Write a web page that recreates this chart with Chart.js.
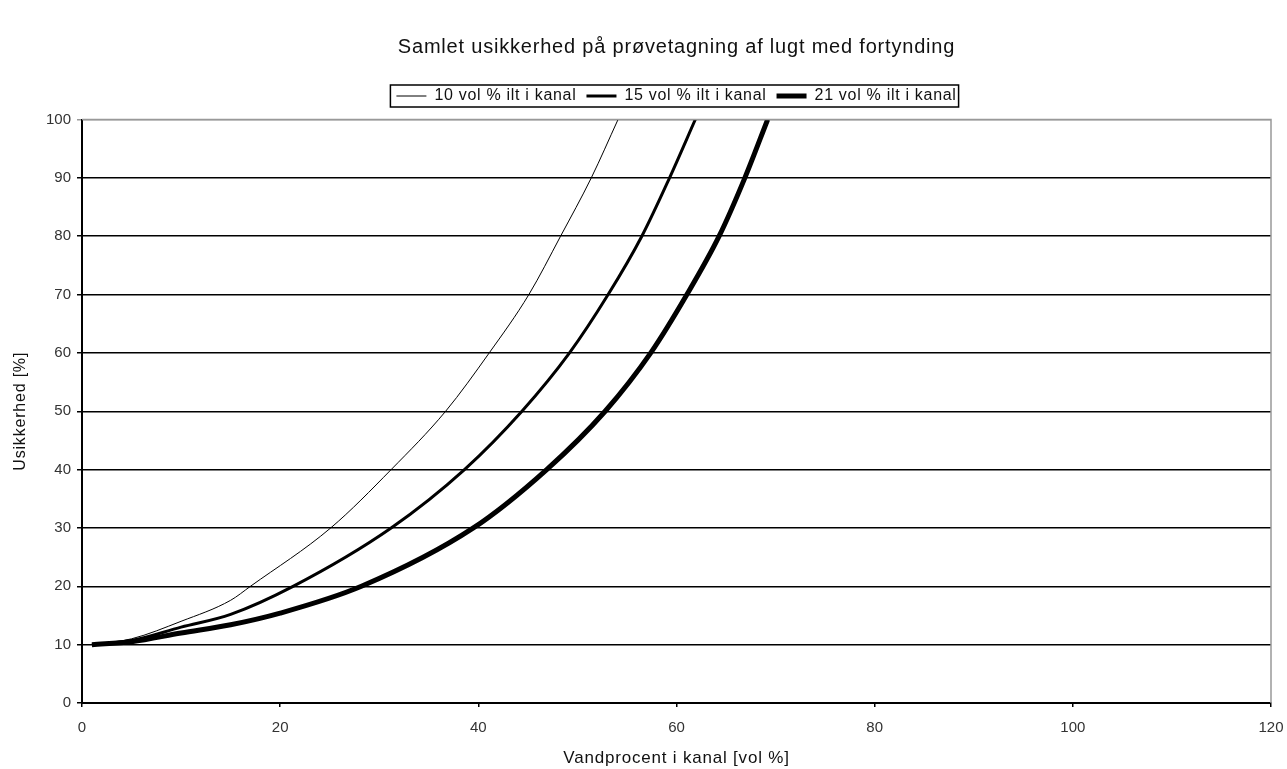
<!DOCTYPE html>
<html lang="da">
<head>
    <meta charset="UTF-8">
    <title>Samlet usikkerhed</title>
    <style>
        html, body { margin: 0; padding: 0; background: #fff; }
        #wrap { width: 1287px; height: 769px; }
    </style>
</head>
<body>
    <div id="wrap"><canvas id="chart"></canvas></div>

    <script src="https://cdn.jsdelivr.net/npm/chart.js"></script>
    <script>
        // Aflæste punkter (x = vandprocent, y = usikkerhed)
        const labels10 = '10 vol % ilt i kanal';
        const x10 = [1, 5, 10, 15, 17.0, 25.1, 31.2, 36.7, 41.1, 45.1, 48.3, 51.4, 54.1];
        const y10 = [10, 11.0, 14.0, 17.6, 20, 30, 40, 50, 60, 70, 80, 90, 100];

        const labels15 = '15 vol % ilt i kanal';
        const x15 = [1, 5, 10, 15, 21.3, 31.2, 38.6, 44.4, 49.2, 53.1, 56.5, 59.3, 61.9];
        const y15 = [10, 10.7, 13.0, 15.2, 20, 30, 40, 50, 60, 70, 80, 90, 100];

        const labels21 = '21 vol % ilt i kanal';
        const x21 = [1, 5, 10, 15, 20, 28.2, 39.5, 46.9, 52.8, 57.4, 61.05, 64.3, 66.9, 69.2];
        const y21 = [10, 10.5, 12.0, 13.4, 15.4, 20, 30, 40, 50, 60, 70, 80, 90, 100];

        const pts = (xs, ys) => xs.map((x, i) => ({ x: x, y: ys[i] }));

        const fontName = '"Liberation Sans", Arial, sans-serif';

        // lidt bredere skrift i titler og legend (som i Excel-billedet)
        function spaced(chart, obj, name, sp) {
            if (!obj || obj['_sp_' + name]) return;
            const orig = obj[name];
            obj[name] = function () {
                const c = chart.ctx;
                const old = c.letterSpacing;
                c.letterSpacing = sp;
                const r = orig.apply(this, arguments);
                c.letterSpacing = old;
                return r;
            };
            obj['_sp_' + name] = true;
        }

        const letters = {
            id: 'letters',
            afterInit(chart) {
                spaced(chart, chart.legend, 'fit', '0.7px');
                spaced(chart, chart.legend, 'draw', '0.7px');
                spaced(chart, chart.titleBlock, 'draw', '0.8px');
            },
            beforeDraw(chart) {
                Object.values(chart.scales).forEach(s => spaced(chart, s, 'drawTitle', '0.8px'));
            }
        };

        // ramme om legend + grå kant top/højre
        const frames = {
            id: 'frames',
            afterDraw(chart) {
                const c = chart.ctx;
                const a = chart.chartArea;
                c.save();
                c.strokeStyle = '#999';
                c.lineWidth = 1.5;
                c.beginPath();
                c.moveTo(a.left, a.top);
                c.lineTo(a.right, a.top);
                c.lineTo(a.right, a.bottom);
                c.stroke();

                const boxes = chart.legend.legendHitBoxes;
                if (boxes && boxes.length) {
                    const l = Math.min(...boxes.map(b => b.left)) - 6;
                    const r = Math.max(...boxes.map(b => b.left + b.width)) + 2;
                    const t = Math.min(...boxes.map(b => b.top)) - 3;
                    const btm = Math.max(...boxes.map(b => b.top + b.height)) + 3;
                    c.strokeStyle = '#000';
                    c.lineWidth = 1.5;
                    c.strokeRect(l, t, r - l, btm - t);
                }
                c.restore();
            }
        };

        const mk = (label, xs, ys, w) => ({
            label: label,
            data: pts(xs, ys),
            borderColor: '#000',
            backgroundColor: '#000',
            borderWidth: w,
            pointRadius: 0,
            fill: false,
            cubicInterpolationMode: 'monotone'
        });

        new Chart(document.getElementById('chart'), {
            type: 'line',
            data: {
                datasets: [
                    mk(labels10, x10, y10, 1),
                    mk(labels15, x15, y15, 3),
                    mk(labels21, x21, y21, 5)
                ]
            },
            options: {
                responsive: true,
                maintainAspectRatio: false,
                animation: false,
                layout: { padding: { left: 0, right: 0, top: 0, bottom: 0 } },
                plugins: {
                    title: {
                        display: true,
                        fullSize: false,
                        text: 'Samlet usikkerhed på prøvetagning af lugt med fortynding',
                        color: '#111',
                        font: { family: fontName, size: 20, weight: 'normal' },
                        padding: { top: 35, bottom: 19 }
                    },
                    // tom afstand mellem legend og plotområde
                    subtitle: {
                        display: true,
                        fullSize: false,
                        text: ' ',
                        weight: 500,
                        font: { size: 1, lineHeight: 1 },
                        padding: { top: 0, bottom: 4.5 }
                    },
                    legend: {
                        position: 'top',
                        fullSize: false,
                        labels: {
                            usePointStyle: true,
                            pointStyle: 'line',
                            pointStyleWidth: 30,
                            padding: 10,
                            color: '#111',
                            font: { family: fontName, size: 16 }
                        }
                    },
                    tooltip: { enabled: false }
                },
                scales: {
                    x: {
                        type: 'linear',
                        min: 0,
                        max: 120,
                        ticks: { stepSize: 20, color: '#333', font: { family: fontName, size: 15 }, padding: 12 },
                        grid: { drawOnChartArea: false, tickLength: 4, color: '#000', lineWidth: 1.5 },
                        border: { color: '#000', width: 2 },
                        title: {
                            display: true,
                            text: 'Vandprocent i kanal [vol %]',
                            color: '#111',
                            font: { family: fontName, size: 17 },
                            padding: { top: 8, bottom: 0 }
                        },
                        afterFit: s => {
                            s.height = 66;
                            s.paddingLeft = 0;
                            s.paddingRight = 16;
                        }
                    },
                    y: {
                        min: 0,
                        max: 100,
                        ticks: { stepSize: 10, color: '#333', font: { family: fontName, size: 15 }, padding: 6 },
                        grid: {
                            color: ctx => ctx.tick && ctx.tick.value === 100 ? '#999' : '#000',
                            lineWidth: 1.5,
                            tickLength: 5
                        },
                        border: { color: '#000', width: 2 },
                        title: {
                            display: true,
                            text: 'Usikkerhed [%]',
                            color: '#111',
                            font: { family: fontName, size: 16 },
                            padding: { top: 11, bottom: 8 }
                        },
                        afterFit: s => { s.width = 82; }
                    }
                }
            },
            plugins: [letters, frames]
        });
    </script>
</body>
</html>
